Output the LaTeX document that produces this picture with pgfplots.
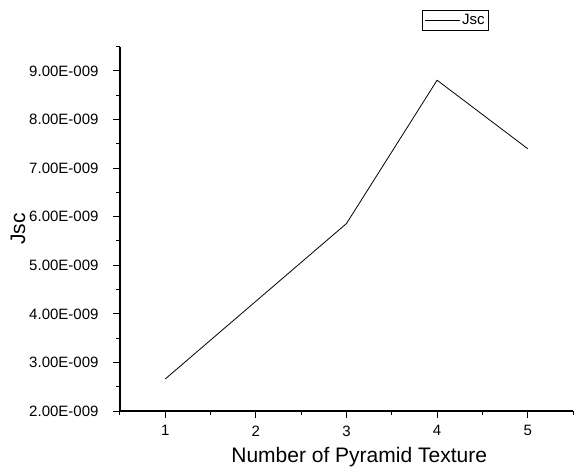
\documentclass[border=0pt]{standalone}
\usepackage{fontspec}
\setmainfont{Liberation Sans}
\usepackage{pgfplots}
\pgfplotsset{compat=1.18}
\begin{document}
\begin{tikzpicture}
\useasboundingbox (-120pt,-60pt) rectangle (457pt,411pt);
\begin{axis}[
  at={(0pt,0pt)}, anchor=south west,
  scale only axis, width=453pt, height=364.3pt,
  xmin=0.5, xmax=5.5, ymin=2e-9, ymax=9.5e-9,
  axis x line*=bottom, axis y line*=left,
  axis line style={-, line width=1.1pt},
  xtick={1,2,3,4,5},
  minor xtick={0.5,1.5,2.5,3.5,4.5,5.5},
  ytick={2e-9,3e-9,4e-9,5e-9,6e-9,7e-9,8e-9,9e-9},
  yticklabels={2.00E-009,3.00E-009,4.00E-009,5.00E-009,6.00E-009,7.00E-009,8.00E-009,9.00E-009},
  minor ytick={2.5e-9,3.5e-9,4.5e-9,5.5e-9,6.5e-9,7.5e-9,8.5e-9,9.5e-9},
  tick align=outside,
  major tick length=7pt, minor tick length=4pt,
  tick style={line width=1pt, black},
  tick label style={font=\fontsize{15}{17}\selectfont},
  yticklabel style={xshift=-11pt},
  xticklabel style={yshift=-4pt},
  /pgf/number format/assume math mode=true,
  scaled y ticks=false,
  xlabel={Number of Pyramid Texture}, ylabel={Jsc},
  label style={font=\fontsize{21}{25}\selectfont},
  xlabel style={at={(axis description cs:0.528,0)}, anchor=base, yshift=-51pt},
  ylabel style={at={(axis description cs:-0.2097,0.5)}, anchor=base, rotate=0},
  legend style={at={(axis description cs:0.8146,1.1007)}, anchor=north east,
    draw=black, line width=0.6pt, inner sep=2pt, font=\fontsize{15}{17}\selectfont,
    legend cell align=left},
  legend image code/.code={\draw[#1,line width=0.8pt] (0pt,0pt) -- (35pt,0pt);},
]
\addplot[black, line width=0.8pt] coordinates {
  (1,2.66e-9) (2,4.26e-9) (3,5.86e-9) (4,8.81e-9) (5,7.40e-9)
};
\addlegendentry{Jsc}
\end{axis}
\end{tikzpicture}
\end{document}
